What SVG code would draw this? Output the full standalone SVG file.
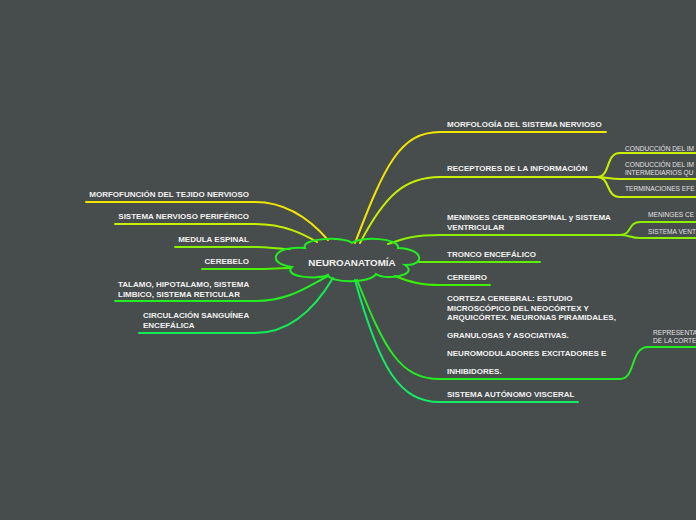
<svg xmlns="http://www.w3.org/2000/svg" width="696" height="520" viewBox="0 0 696 520">
<style>
.m{font-family:"Liberation Sans",Arial,sans-serif;font-weight:bold;font-size:8px;fill:#f2f2f2}
.s{font-family:"Liberation Sans",Arial,sans-serif;font-size:6.6px;fill:#e2e2e2}
.c{font-family:"Liberation Sans",Arial,sans-serif;font-weight:bold;font-size:9.8px;fill:#f2f2f2}
path{fill:none;stroke-width:2;stroke-linecap:round}
</style>
<rect width="696" height="520" fill="#474c4c"/>
<g id="connectors">
<path d="M355,243 C385,165 400,132 440,132 L606,132" stroke="#f2e600"/>
<path d="M360,243 C385,195 405,177 440,177 L597,177" stroke="#c8f000"/>
<path d="M597,177 C611,177 605,153 620,153 L696,153" stroke="#c8f000"/>
<path d="M597,177 C606,177 610,179 620,179 L696,179" stroke="#c8f000"/>
<path d="M597,177 C611,177 605,197 620,197 L696,197" stroke="#c8f000"/>
<path d="M388,244 C405,238 415,235 440,235 L620,235" stroke="#8cf000"/>
<path d="M620,235 C632,235 628,222 640,222 L696,222" stroke="#8cf000"/>
<path d="M620,235 C630,235 630,238 640,238 L696,238" stroke="#8cf000"/>
<path d="M418,262 L540,262" stroke="#5ef000"/>
<path d="M395,276 C410,282 420,285 440,285 L490,285" stroke="#3cf000"/>
<path d="M357,280 C385,350 400,379 440,379 L620,379 C636,379 630,347 648,347 L696,347" stroke="#22ee22"/>
<path d="M355,280 C380,370 400,402 440,402 L578,402" stroke="#11ee66"/>
<path d="M86,202 L255,202 C290,202 315,225 328,240" stroke="#f2e600"/>
<path d="M115,224 L255,224 C285,224 305,235 317,242" stroke="#c8f000"/>
<path d="M175,247 L255,247 C270,247 280,249 290,249" stroke="#8cf000"/>
<path d="M202,269 L255,269 C270,269 280,268 290,268" stroke="#4cf000"/>
<path d="M115,301 L255,301 C290,301 310,285 328,276" stroke="#22ee22"/>
<path d="M139,333 L255,333 C295,333 320,300 333,278" stroke="#11ee55"/>
</g>
<g id="center">
<path d="M305,248 C300,238 345,236 352,243 C360,236 400,238 398,248 C425,249 425,266 405,265 C420,275 385,281 376,274 C370,284 330,283 328,275 C318,280 282,277 292,267 C266,264 272,245 305,248 Z" fill="#474c4c" stroke="#22ee22" stroke-width="2"/>
<text class="c" x="352" y="265.5" text-anchor="middle">NEUROANATOMÍA</text>
</g>
<g id="n-morfologia"><text class="m" x="447" y="127">MORFOLOGÍA DEL SISTEMA NERVIOSO</text></g>
<g id="n-receptores"><text class="m" x="447" y="171">RECEPTORES DE LA INFORMACIÓN</text></g>
<g id="n-rec1"><text class="s" x="625" y="151">CONDUCCIÓN DEL IM</text></g>
<g id="n-rec2"><text class="s" x="625" y="167">CONDUCCIÓN DEL IM</text><text class="s" x="625" y="175">INTERMEDIARIOS QU</text></g>
<g id="n-rec3"><text class="s" x="625" y="191">TERMINACIONES EFE</text></g>
<g id="n-meninges"><text class="m" x="447" y="220">MENINGES CEREBROESPINAL y SISTEMA</text><text class="m" x="447" y="229.5">VENTRICULAR</text></g>
<g id="n-men1"><text class="s" x="648" y="216.5">MENINGES CE</text></g>
<g id="n-men2"><text class="s" x="648" y="233.5">SISTEMA VENT</text></g>
<g id="n-tronco"><text class="m" x="447" y="256.5">TRONCO ENCEFÁLICO</text></g>
<g id="n-cerebro"><text class="m" x="447" y="279.5">CEREBRO</text></g>
<g id="n-corteza">
<text class="m" x="447" y="301">CORTEZA CEREBRAL: ESTUDIO</text>
<text class="m" x="447" y="310.5">MICROSCÓPICO DEL NEOCÓRTEX Y</text>
<text class="m" x="447" y="320">ARQUICÓRTEX. NEURONAS PIRAMIDALES,</text>
<text class="m" x="447" y="338">GRANULOSAS Y ASOCIATIVAS.</text>
<text class="m" x="447" y="356">NEUROMODULADORES EXCITADORES E</text>
<text class="m" x="447" y="374">INHIBIDORES.</text>
</g>
<g id="n-representa"><text class="s" x="653" y="335">REPRESENTA</text><text class="s" x="653" y="343">DE LA CORTE</text></g>
<g id="n-autonomo"><text class="m" x="447" y="397">SISTEMA AUTÓNOMO VISCERAL</text></g>
<g id="n-morfofuncion"><text class="m" x="249" y="197" text-anchor="end">MORFOFUNCIÓN DEL TEJIDO NERVIOSO</text></g>
<g id="n-snp"><text class="m" x="249" y="219" text-anchor="end">SISTEMA NERVIOSO PERIFÉRICO</text></g>
<g id="n-medula"><text class="m" x="249" y="242" text-anchor="end">MEDULA ESPINAL</text></g>
<g id="n-cerebelo"><text class="m" x="249" y="264" text-anchor="end">CEREBELO</text></g>
<g id="n-talamo"><text class="m" x="118" y="287">TALAMO, HIPOTALAMO, SISTEMA</text><text class="m" x="118" y="296.5">LIMBICO, SISTEMA RETICULAR</text></g>
<g id="n-circulacion"><text class="m" x="143" y="318">CIRCULACIÓN SANGUÍNEA</text><text class="m" x="143" y="327.5">ENCEFÁLICA</text></g>
</svg>
